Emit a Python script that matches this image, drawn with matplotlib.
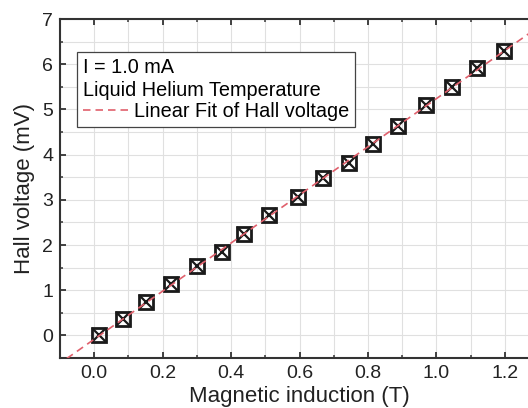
import numpy as np
import matplotlib
matplotlib.use("Agg")
import matplotlib.pyplot as plt
from matplotlib.ticker import MultipleLocator, FormatStrFormatter

plt.rcParams['font.family'] = ['Liberation Sans', 'DejaVu Sans']

# Data
field_T = [0.013, 0.085, 0.151, 0.224, 0.299, 0.373, 0.437, 0.512, 0.597,
           0.670, 0.746, 0.814, 0.888, 0.970, 1.046, 1.119, 1.197]
hall_mV = [0.00, 0.36, 0.75, 1.13, 1.53, 1.84, 2.24, 2.66, 3.06,
           3.48, 3.82, 4.23, 4.64, 5.09, 5.49, 5.92, 6.29]

xticks = [0.0, 0.2, 0.4, 0.6, 0.8, 1.0, 1.2]
yticks = [0, 1, 2, 3, 4, 5, 6, 7]

title_lines = "I = 1.0 mA\nLiquid Helium Temperature"
fit_label = "Linear Fit of Hall voltage"
xlabel = "Magnetic induction (T)"
ylabel = "Hall voltage (mV)"

fig = plt.figure(figsize=(5.28, 4.08), dpi=100)
W, H = 528, 408
ax_left, ax_right, ax_top, ax_bottom = 60, 539, 19, 358
ax = fig.add_axes([ax_left / W, 1 - ax_bottom / H, (ax_right - ax_left) / W, (ax_bottom - ax_top) / H])

ax.set_xlim(-0.1, 1.3)
ax.set_ylim(-0.5, 7)

# grid at major and minor positions
ax.xaxis.set_major_locator(plt.FixedLocator(xticks))
ax.xaxis.set_minor_locator(MultipleLocator(0.1))
ax.yaxis.set_major_locator(plt.FixedLocator(yticks))
ax.yaxis.set_minor_locator(MultipleLocator(0.5))
ax.xaxis.set_major_formatter(FormatStrFormatter('%.1f'))
ax.grid(True, which='both', color='#e0e0e0', linewidth=0.8, zorder=0)
ax.set_axisbelow(True)

x = np.array(field_T)
y = np.array(hall_mV)
slope, intercept = np.polyfit(x, y, 1)
xf = np.array([-0.2, 1.4])

ax.plot(x, y, linestyle='none', marker='s', markersize=10, markerfacecolor='none',
        markeredgecolor='#1a1a1a', markeredgewidth=2.0, zorder=3)
ax.plot(x, y, linestyle='none', marker='x', markersize=10, markeredgecolor='#1a1a1a',
        markeredgewidth=1.6, zorder=3)
fit_line, = ax.plot(xf, slope * xf + intercept, linestyle=(0, (4.5, 3)), color='#e0606c',
                    linewidth=1.2, zorder=4, label=fit_label)

for s in ax.spines.values():
    s.set_linewidth(1.5)
    s.set_color('#333333')

ax.tick_params(which='both', direction='in', top=True, right=True, colors='#333333',
               labelcolor='#222222')
ax.tick_params(which='major', length=4.5, width=1.3, labelsize=14, pad=5)
ax.tick_params(which='minor', length=2.5, width=1.1)

ax.set_xlabel(xlabel, fontsize=16, color='#222222')
ax.set_ylabel(ylabel, fontsize=16, color='#222222')
ax.xaxis.set_label_coords(0.5, -0.083)
ax.yaxis.set_label_coords(-0.052, 0.5)

leg = ax.legend(handles=[fit_line], title=title_lines, title_fontsize=14.3, fontsize=14.3,
                loc='upper left', bbox_to_anchor=(0.0355, 0.9027), borderaxespad=0,
                alignment='left', handlelength=2.25, handletextpad=0.3,
                borderpad=0.3, labelspacing=0.1, fancybox=False, framealpha=1,
                edgecolor='#444444')
leg.get_title().set_linespacing(1.3)
leg.get_frame().set_linewidth(0.9)

fig.savefig('out.png', dpi=100)
